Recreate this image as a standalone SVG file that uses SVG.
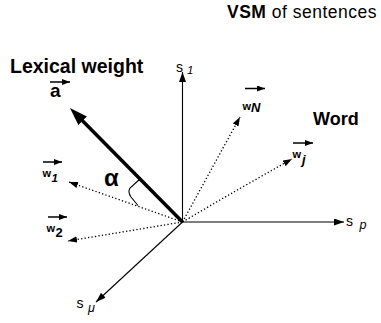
<svg xmlns="http://www.w3.org/2000/svg" width="381" height="323" viewBox="0 0 381 323">
<defs>
<style>
.t{font-family:"Liberation Sans",Arial,sans-serif;fill:#000}
.b{font-weight:bold}
.i{font-style:italic}
.ax{stroke:#000;stroke-width:1.1;fill:none}
.dot{stroke:#000;stroke-width:1.3;stroke-dasharray:1.3 2.2;fill:none}
.lv{stroke:#000;stroke-width:1.5;fill:none}
</style>
<marker id="ah" markerUnits="userSpaceOnUse" markerWidth="11" markerHeight="8" refX="10" refY="3.5" orient="auto"><path d="M0,0 L10,3.5 L0,7 z" fill="#000"/></marker>
<marker id="ahd" markerUnits="userSpaceOnUse" markerWidth="10" markerHeight="8" refX="9" refY="3.2" orient="auto"><path d="M0,0 L9,3.2 L0,6.4 z" fill="#000"/></marker>
<marker id="ahb" markerUnits="userSpaceOnUse" markerWidth="19" markerHeight="13" refX="10" refY="6" orient="auto"><path d="M0,0 L18,6 L0,12 z" fill="#000"/></marker>
<marker id="ahs" markerUnits="userSpaceOnUse" markerWidth="9" markerHeight="7" refX="8" refY="3" orient="auto"><path d="M0,0 L8,3 L0,6 z" fill="#000"/></marker>
</defs>
<rect width="381" height="323" fill="#fff"/>
<g id="connectors">
<line class="ax" x1="182.5" y1="222" x2="182.5" y2="72" marker-end="url(#ah)"/>
<line class="ax" x1="182.5" y1="222" x2="344" y2="222" stroke-width="1.5" marker-end="url(#ah)"/>
<line class="ax" x1="182.5" y1="222" x2="96" y2="302" marker-end="url(#ah)"/>
<line x1="182.5" y1="222" x2="75.6" y2="113.7" stroke="#000" stroke-width="3.5" marker-end="url(#ahb)"/>
<path class="dot" d="M182.5,222 L240,117" marker-end="url(#ahd)"/>
<path class="dot" d="M182.5,222 Q240,188 292,159" marker-end="url(#ahd)"/>
<path class="dot" d="M182.5,222 L69,182" marker-end="url(#ahd)"/>
<path class="dot" d="M182.5,222 L68,241" marker-end="url(#ahd)"/>
<path d="M140,179 L130,188 Q127.5,192 131,197 L138,205.5" stroke="#000" stroke-width="1.1" fill="none"/>
</g>
<g id="title"><text class="t" x="227" y="18" font-size="17.5" letter-spacing="0.5"><tspan class="b">VSM</tspan> of sentences</text></g>
<g id="lexical-weight"><text class="t b" x="10" y="72.5" font-size="19.5">Lexical weight</text></g>
<g id="vec-a"><line class="lv" x1="50" y1="82" x2="70" y2="82" marker-end="url(#ahs)"/><text class="t b" x="50" y="97" font-size="19">a</text></g>
<g id="word"><text class="t b" x="313" y="125" font-size="18">Word</text></g>
<g id="alpha"><text class="t b" x="104" y="186" font-size="24">α</text></g>
<g id="s1"><text class="t" x="176" y="72" font-size="14">s</text><text class="t i" x="187" y="73.5" font-size="11.5">1</text></g>
<g id="sp"><text class="t" x="346" y="225.5" font-size="14">s</text><text class="t i" x="359.5" y="228.5" font-size="12.5">p</text></g>
<g id="smu"><text class="t" x="76.5" y="308" font-size="14">s</text><text class="t i" x="88" y="312" font-size="12.5">μ</text></g>
<g id="w1"><line class="lv" x1="43" y1="162" x2="62" y2="162" marker-end="url(#ahs)"/><text class="t b" x="42.5" y="177" font-size="11">w</text><text class="t b i" x="51.5" y="181.5" font-size="11.5">1</text></g>
<g id="w2"><line class="lv" x1="48" y1="217" x2="67" y2="217" marker-end="url(#ahs)"/><text class="t b" x="46.5" y="232" font-size="11">w</text><text class="t b" x="55.5" y="237" font-size="13">2</text></g>
<g id="wN"><line class="lv" x1="245" y1="88.5" x2="265" y2="88.5" marker-end="url(#ahs)"/><text class="t b" x="242.5" y="110" font-size="11">w</text><text class="t b i" x="251" y="112" font-size="13">N</text></g>
<g id="wj"><line class="lv" x1="293" y1="143" x2="313" y2="143" marker-end="url(#ahs)"/><text class="t b" x="292.5" y="158" font-size="11">w</text><text class="t b i" x="302" y="164" font-size="13">j</text></g>
</svg>
